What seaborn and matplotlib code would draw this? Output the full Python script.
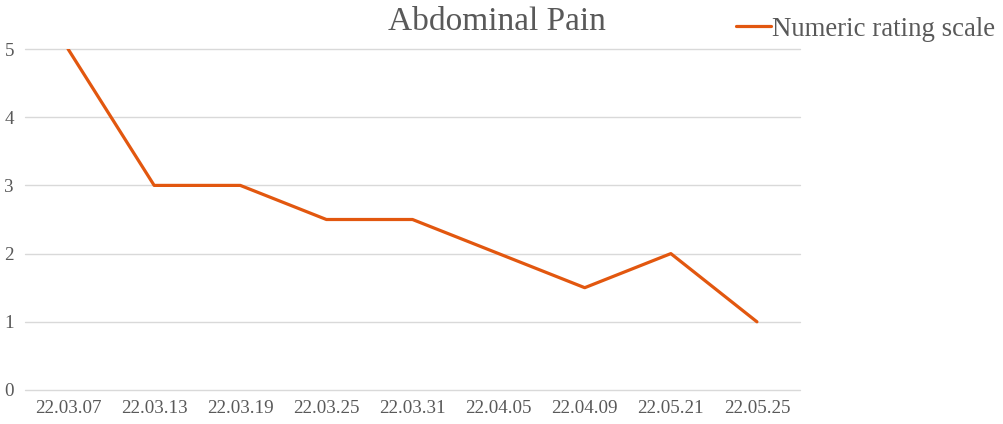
import matplotlib
matplotlib.use("Agg")
import matplotlib.pyplot as plt
import seaborn as sns
import pandas as pd

dates = ["22.03.07", "22.03.13", "22.03.19", "22.03.25", "22.03.31",
         "22.04.05", "22.04.09", "22.05.21", "22.05.25"]
nrs = [5, 3, 3, 2.5, 2.5, 2, 1.5, 2, 1]

sns.set_theme(style="white")
plt.rcParams['font.family'] = ['Liberation Serif', 'DejaVu Serif']
gray = "#595959"

df = pd.DataFrame({"date": dates, "Numeric rating scale": nrs})

fig = plt.figure(figsize=(10.04, 4.24), dpi=100)
ax = fig.add_axes([25/1004, 34/424, 775/1004, 341/424])
sns.lineplot(data=df, x="date", y="Numeric rating scale", sort=False, ax=ax,
             color="#E2570F", linewidth=2.3, label="Numeric rating scale", legend=False)
ax.set_xlim(-0.5, len(dates) - 0.5)
ax.set_ylim(0, 5)
ax.set_yticks(range(0, 6))
ax.grid(axis="y", color="#D9D9D9", linewidth=1)
ax.grid(axis="x", visible=False)
for gl in ax.get_ygridlines():
    gl.set_clip_on(False)
for s in ax.spines.values():
    s.set_visible(False)
ax.tick_params(axis="both", length=0, labelsize=13.7, labelcolor=gray)
ax.tick_params(axis="y", pad=8)
ax.tick_params(axis="x", pad=7)
ax.set_xlabel("")
ax.set_ylabel("")
ax.set_yticklabels([str(i) for i in range(6)])

fig.text(497/1004, 1 - 22/424, "Abdominal Pain", ha="center", va="center",
         fontsize=24, color=gray)
h, l = ax.get_legend_handles_labels()
leg = fig.legend(h, l, loc="center left", bbox_to_anchor=(736/1004, 1 - 29/424),
                 frameon=False, fontsize=19.3, handlelength=1.3, handletextpad=0.05,
                 borderaxespad=0, borderpad=0)
for t in leg.get_texts():
    t.set_color(gray)

fig.savefig("out.png", dpi=100)
